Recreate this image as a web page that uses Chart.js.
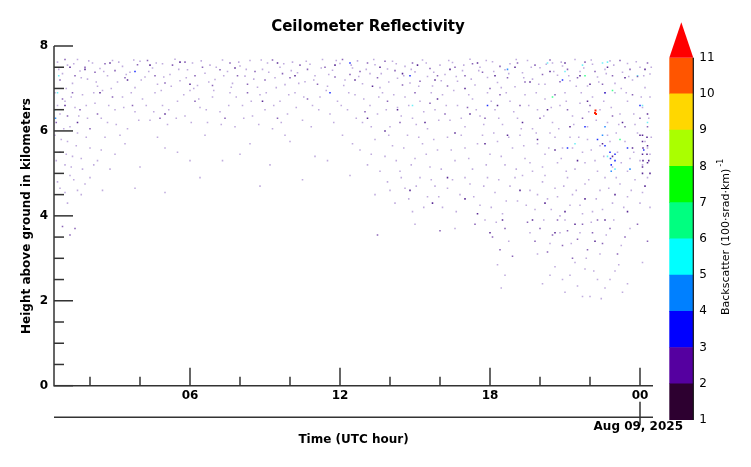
<!DOCTYPE html>
<html>
<head>
<meta charset="utf-8">
<script src="https://cdn.jsdelivr.net/npm/chart.js@4.4.0/dist/chart.umd.min.js"></script>
<style>
  html,body{margin:0;padding:0;background:#fff;}
  #wrap{position:relative;width:751px;height:467px;overflow:hidden;}
  #main{position:absolute;left:0;top:0;}
  #cbar{position:absolute;left:640px;top:0;}
</style>
</head>
<body>
<div id="wrap">
  <canvas id="main" width="751" height="467"></canvas>
  <canvas id="cbar" width="111" height="467"></canvas>
</div>
<script>
// axis ranges (UTC hour, km)
const X_MIN = 0.56, X_MAX = 24.52;
const Y_MIN = 0, Y_MAX = 8;
const X_TICKS = [2,4,6,8,10,12,14,16,18,20,22,24];
const X_LABELS = {6:'06',12:'12',18:'18',24:'00'};
const Y_LABELS = [0,2,4,6,8];
const DATE_LABEL = 'Aug 09, 2025';

// colour bar levels
const CB_LEVELS = [1,2,3,4,5,6,7,8,9,10];
const CB_COLORS = ['#2d0030','#5500a0','#0000ff','#0080ff','#00ffff','#00ff80','#00ff00','#aaff00','#ffd700','#ff5500'];
const CB_TICKS = [1,2,3,4,5,6,7,8,9,10,11];

// echoes [hour, km], grouped by how strong they look
const palePts = [
 [0.7,7.62],[0.9,7.35],[1.1,7.55],[1.3,7.12],[1.5,7.68],[1.6,7.41],[1.9,7.22],[2.1,7.6],[2.3,7.05],[2.4,7.47],[2.7,7.3],[2.9,7.66],[3.1,7.15],[3.3,7.52],[3.6,7.38],[3.8,7.02],[4.0,7.64],[4.2,7.27],[4.5,7.48],[4.7,7.1],[4.9,7.58],[5.2,7.33],[5.4,7.69],[5.6,7.18],[5.9,7.44],[6.1,7.6],[6.3,7.07],[6.6,7.36],[6.8,7.55],[7.0,7.21],[7.3,7.67],[7.5,7.4],[7.7,7.12],[8.0,7.53],[8.2,7.29],[8.4,7.66],[8.7,7.03],[8.9,7.45],[9.1,7.6],[9.4,7.25],[9.6,7.5],[9.8,7.09],[10.1,7.62],[10.3,7.37],[10.6,7.16],[10.8,7.57],[11.0,7.3],[11.3,7.68],[11.5,7.05],[11.7,7.43],[12.0,7.59],[12.2,7.2],[12.5,7.48],[12.7,7.65],[12.9,7.11],[13.2,7.35],[13.4,7.56],[13.6,7.02],[13.9,7.46],[14.1,7.64],[14.3,7.24],[14.6,7.52],[14.8,7.13],[15.0,7.39],[15.3,7.67],[15.5,7.28],[15.7,7.06],[16.0,7.55],[16.2,7.33],[16.5,7.61],[16.7,7.17],[16.9,7.42],[17.2,7.69],[17.4,7.08],[17.6,7.5],[17.9,7.26],[18.1,7.63],[18.3,7.14],[18.6,7.44],[18.8,7.58],[19.0,7.04],[19.3,7.37],[19.5,7.66],[19.7,7.22],[20.0,7.49],[20.2,7.1],[20.5,7.6],[20.7,7.31],[20.9,7.53],[21.2,7.18],[21.4,7.68],[21.6,7.4],[21.9,7.06],[22.1,7.57],[22.3,7.27],[22.6,7.45],[22.8,7.65],[23.0,7.12],[23.3,7.38],[23.5,7.59],[23.7,7.2],[24.0,7.5],[24.2,7.02],[24.4,7.34],
 [0.75,7.45],[1.05,7.0],[1.35,7.58],[1.65,7.25],[1.95,7.65],[2.25,7.15],[2.55,7.4],[2.85,7.0],[3.15,7.62],[3.45,7.33],[3.75,7.67],[4.05,7.2],[4.35,7.4],[4.65,7.6],[4.95,7.27],[5.25,7.05],[5.55,7.45],[5.85,7.25],[6.15,7.0],[6.45,7.65],[6.75,7.15],[7.05,7.5],[7.35,7.3],[7.65,7.03],[7.95,7.62],[8.25,7.45],[8.55,7.22],[8.85,7.67],[9.15,7.38],[9.45,7.02],[9.75,7.58],[10.05,7.42],[10.35,7.12],[10.65,7.64],[10.95,7.2],[11.25,7.48],[11.55,7.33],[11.85,7.66],[12.15,7.07],[12.45,7.55],[12.75,7.28],[13.05,7.45],[13.35,7.68],[13.65,7.35],[13.95,7.15],[14.25,7.58],[14.55,7.3],[14.85,7.45],[15.15,7.05],[15.45,7.6],[15.75,7.38],[16.05,7.18],[16.35,7.66],[16.65,7.28],[16.95,7.55],[17.25,7.22],[17.55,7.42],[17.85,7.66],[18.15,7.4],[18.45,7.02],[18.75,7.35],[19.05,7.68],[19.35,7.25],[19.65,7.5],[19.95,7.1],[20.25,7.57],[20.55,7.4],[20.85,7.62],[21.15,7.3],[21.45,7.05],[21.75,7.48],[22.05,7.67],[22.35,7.15],[22.65,7.35],[22.95,7.55],[23.25,7.0],[23.55,7.28],[23.85,7.63],[24.15,7.3],[24.45,7.5],
 [0.6,6.9],[0.8,6.4],[1.0,6.7],[1.2,6.1],[1.4,6.55],[1.7,6.85],[1.9,6.3],[2.2,6.65],[2.5,6.95],[2.7,6.2],[3.0,6.5],[3.3,6.8],[3.5,6.05],[3.8,6.45],[4.1,6.75],[4.4,6.25],[4.6,6.9],[4.9,6.6],[5.1,6.15],[5.5,6.7],[5.8,6.35],[6.0,6.95],[6.4,6.55],[6.7,6.2],[6.9,6.8],[7.2,6.45],[7.6,6.9],[7.8,6.1],[8.1,6.6],[8.5,6.35],[8.8,6.85],[9.0,6.5],[9.3,6.05],[9.6,6.7],[9.9,6.4],[10.2,6.9],[10.5,6.25],[10.9,6.6],[11.2,6.8],[11.6,6.4],[11.9,6.7],[12.3,6.5],[12.6,6.85],[12.9,6.2],[13.2,6.6],[13.5,6.4],[13.7,6.9],[14.0,6.1],[14.3,6.55],[14.6,6.8],[14.9,6.3],[15.2,6.7],[15.5,6.05],[15.8,6.5],[16.1,6.85],[16.4,6.25],[16.7,6.6],[17.0,6.1],[17.3,6.75],[17.6,6.35],[17.9,6.9],[18.2,6.5],[18.5,6.15],[18.8,6.7],[19.1,6.3],[19.4,6.85],[19.7,6.05],[19.9,6.5],[20.2,6.75],[20.5,6.2],[20.8,6.6],[21.0,6.9],[21.3,6.35],[21.6,6.65],[21.9,6.1],[22.1,6.8],[22.4,6.5],[22.7,6.2],[23.0,6.9],[23.2,6.4],[23.5,6.7],[23.8,6.15],[24.1,6.55],[24.4,6.8],
 [0.7,6.6],[0.95,6.05],[1.25,6.8],[1.55,6.35],[1.85,6.6],[2.15,6.9],[2.45,6.3],[2.75,6.6],[3.05,6.15],[3.35,6.55],[3.65,6.9],[3.95,6.25],[4.25,6.6],[4.55,6.45],[4.85,6.95],[5.15,6.5],[5.45,6.3],[5.75,6.85],[6.05,6.2],[6.35,6.75],[6.65,6.5],[6.95,6.95],[7.25,6.15],[7.55,6.6],[7.85,6.8],[8.15,6.3],[8.45,6.7],[8.75,6.15],[9.05,6.9],[9.35,6.6],[9.65,6.2],[9.95,6.85],[10.25,6.55],[10.55,6.8],[10.85,6.1],[11.15,6.5],[11.45,6.95],[11.75,6.2],[12.05,6.6],[12.35,6.9],[12.65,6.3],[12.95,6.75],[13.25,6.1],[13.55,6.8],[13.85,6.5],[14.15,6.85],[14.45,6.35],[14.75,6.6],[15.05,6.15],[15.35,6.45],[15.65,6.9],[15.95,6.25],[16.25,6.6],[16.55,6.95],[16.85,6.3],[17.15,6.85],[17.45,6.5],[17.75,6.15],[18.05,6.7],[18.35,6.3],[18.65,6.9],[18.95,6.45],[19.25,6.05],[19.55,6.6],[19.85,6.9],[20.15,6.35],[20.45,6.55],[20.75,6.05],[21.05,6.7],[21.35,6.15],[21.65,6.9],[21.95,6.45],[22.25,6.25],[22.55,6.7],[22.85,6.55],[23.15,6.15],[23.45,6.9],[23.75,6.4],[24.05,6.8],[24.35,6.3],
 [0.6,5.9],[0.8,5.5],[1.0,5.2],[1.1,5.75],[1.3,5.4],[1.5,5.95],[1.7,5.1],[2.0,5.6],[2.3,5.3],[2.6,5.85],[3.0,5.45],[3.4,5.7],[4.0,5.15],[4.7,5.85],[5.5,5.5],[6.6,5.9],[7.3,5.3],[8.4,5.7],[9.2,5.2],[10.0,5.75],[11.0,5.4],[12.1,5.9],[12.8,5.55],[13.1,5.2],[13.4,5.8],[13.8,5.4],[14.1,5.65],[14.4,5.05],[14.7,5.9],[15.0,5.35],[15.3,5.7],[15.6,5.15],[15.9,5.55],[16.3,5.85],[16.6,5.3],[17.0,5.6],[17.3,5.1],[17.7,5.9],[18.0,5.45],[18.3,5.75],[18.6,5.2],[18.9,5.6],[19.2,5.9],[19.4,5.35],[19.7,5.05],[19.9,5.7],[20.2,5.45],[20.4,5.95],[20.7,5.25],[20.9,5.6],[21.2,5.85],[21.4,5.1],[21.7,5.5],[21.9,5.8],[22.2,5.3],[22.4,5.65],[22.7,5.9],[22.9,5.15],[23.1,5.5],[23.4,5.75],[23.6,5.35],[23.9,5.95],[24.1,5.2],[24.3,5.6],[24.45,5.85],
 [0.65,5.3],[0.85,5.8],[1.05,5.45],[1.25,5.15],[1.45,5.65],[1.65,5.35],[1.85,5.85],[2.15,5.2],[2.45,5.55],[2.8,5.1],[3.2,5.9],[5.0,5.6],[6.0,5.3],[8.0,5.45],[9.8,5.9],[11.5,5.3],[12.5,5.7],[13.25,5.45],[13.6,5.05],[13.95,5.9],[14.25,5.3],[14.55,5.6],[14.85,5.2],[15.15,5.85],[15.45,5.45],[15.75,5.8],[16.05,5.1],[16.45,5.55],[16.85,5.9],[17.15,5.35],[17.5,5.7],[17.85,5.2],[18.15,5.95],[18.45,5.4],[18.75,5.85],[19.05,5.1],[19.35,5.65],[19.6,5.25],[19.85,5.95],[20.1,5.15],[20.35,5.6],[20.6,5.85],[20.85,5.35],[21.05,5.05],[21.3,5.6],[21.55,5.85],[21.8,5.25],[22.05,5.55],[22.3,5.05],[22.55,5.4],[22.8,5.75],[23.05,5.95],[23.25,5.25],[23.5,5.05],[23.75,5.5],[24.0,5.3],[24.2,5.75],[24.4,5.45],
 [0.7,4.8],[1.0,4.55],[1.2,4.95],[1.5,4.6],[1.8,4.75],[2.5,4.6],[3.8,4.65],[5.0,4.55],[6.4,4.9],[8.8,4.7],[10.5,4.85],[12.4,4.95],[13.4,4.5],[13.9,4.8],[14.2,4.3],[14.6,4.65],[14.9,4.1],[15.2,4.9],[15.5,4.45],[15.8,4.7],[16.1,4.2],[16.5,4.85],[16.8,4.5],[17.2,4.75],[17.6,4.25],[17.9,4.9],[18.2,4.55],[18.5,4.05],[18.8,4.7],[19.1,4.35],[19.3,4.95],[19.6,4.6],[19.8,4.15],[20.1,4.8],[20.3,4.4],[20.6,4.65],[20.8,4.0],[21.1,4.9],[21.3,4.5],[21.6,4.25],[21.8,4.75],[22.1,4.1],[22.4,4.6],[22.6,4.9],[22.9,4.3],[23.2,4.75],[23.5,4.45],[23.8,4.85],[24.1,4.55],[24.4,4.2],
 [0.8,4.65],[1.1,4.3],[1.35,4.85],[1.65,4.5],[2.0,4.9],[14.0,4.6],[14.45,4.9],[14.75,4.4],[15.05,4.7],[15.35,4.2],[15.65,4.85],[15.95,4.45],[16.3,4.65],[16.65,4.1],[17.0,4.9],[17.35,4.45],[17.75,4.7],[18.05,4.2],[18.35,4.85],[18.65,4.35],[19.0,4.9],[19.45,4.25],[19.9,4.5],[20.2,4.95],[20.45,4.15],[20.7,4.45],[20.95,4.7],[21.2,4.25],[21.45,4.6],[21.7,4.05],[21.95,4.85],[22.25,4.4],[22.5,4.15],[22.75,4.65],[23.05,4.9],[23.35,4.2],[23.65,4.6],[24.0,4.3],[24.3,4.9],
 [19.6,3.6],[19.9,3.1],[20.15,3.9],[20.4,3.35],[20.8,3.6],[21.0,3.9],[21.25,3.35],[21.6,3.6],[21.85,3.0],[22.05,3.85],[22.4,3.1],[22.65,3.55],[22.95,3.9],[23.25,3.3],[23.6,3.7],[18.25,3.85],[18.75,3.4],[15.0,3.8],[16.6,3.7],[17.8,3.9],
 [18.3,2.85],[18.6,2.6],[20.1,2.4],[20.6,2.8],[21.0,2.2],[21.2,2.6],[21.5,2.35],[21.8,2.75],[22.0,2.1],[22.3,2.5],[22.6,2.3],[23.0,2.7],[23.3,2.2],[24.1,2.9],
 [20.4,2.6],[20.9,2.5],[21.4,2.9],[21.7,2.1],[22.15,2.7],[22.45,2.05],[22.8,2.5],[23.15,2.85],[23.5,2.4],[18.45,2.3]
];
const lightPts = [
 [0.8,7.2],[1.0,7.68],[1.4,7.3],[1.8,7.5],[2.2,7.38],[2.6,7.58],[3.0,7.42],[3.4,7.25],[3.9,7.56],[4.3,7.66],[4.6,7.3],[5.0,7.13],[5.3,7.55],[5.8,7.62],[6.2,7.3],[6.5,7.5],[6.9,7.07],[7.2,7.44],[7.6,7.6],[7.9,7.3],[8.3,7.1],[8.6,7.4],[9.0,7.2],[9.3,7.67],[9.7,7.35],[10.0,7.25],[10.4,7.55],[10.7,7.45],[11.1,7.1],[11.4,7.5],[11.8,7.27],[12.1,7.68],[12.4,7.33],[12.8,7.4],[13.1,7.6],[13.5,7.25],[13.8,7.64],[14.2,7.42],[14.5,7.08],[14.9,7.6],[15.2,7.17],[15.6,7.47],[15.9,7.3],[16.3,7.06],[16.6,7.5],[17.0,7.3],[17.3,7.58],[17.7,7.38],[18.0,7.0],[18.4,7.52],[18.7,7.25],[19.1,7.6],[19.4,7.15],[19.8,7.55],[20.1,7.33],[20.4,7.67],[20.8,7.16],[21.1,7.45],[21.5,7.25],[21.8,7.62],[22.2,7.4],[22.5,7.1],[22.9,7.3],[23.2,7.66],[23.6,7.45],[23.9,7.28],[24.3,7.6],
 [0.65,6.2],[0.9,6.75],[1.1,6.35],[1.3,6.9],[1.6,6.5],[2.0,6.05],[2.3,6.4],[2.9,6.8],[3.7,6.6],[4.8,6.3],[6.2,6.7],[7.4,6.3],[8.3,6.9],[9.5,6.3],[10.7,6.75],[13.0,6.45],[13.9,6.7],[14.4,6.2],[15.0,6.9],[15.6,6.65],[16.2,6.4],[17.1,6.55],[17.8,6.3],[18.4,6.85],[19.2,6.6],[20.0,6.3],[20.6,6.85],[21.1,6.5],[21.7,6.3],[22.0,6.6],[22.6,6.9],[22.9,6.35],[23.4,6.1],[23.7,6.85],[24.0,6.3],[24.3,6.1],
 [0.9,3.75],[1.2,3.55],[1.4,3.7],[13.5,3.55],[16.0,3.65],[17.4,3.8],[18.1,3.5],[18.4,3.2],[18.6,3.7],[18.9,3.05],[19.5,3.85],[19.8,3.4],[20.0,3.7],[20.3,3.15],[20.5,3.55],[20.7,3.9],[20.9,3.3],[21.1,3.65],[21.3,3.0],[21.5,3.45],[21.7,3.8],[21.9,3.2],[22.1,3.6],[22.3,3.9],[22.5,3.35],[22.8,3.7],[23.1,3.1],[23.4,3.5],[23.9,3.8],[24.3,3.4]
];
const purplePts = [
 [1.2,7.5],[1.8,7.45],[2.8,7.6],[3.5,7.2],[4.4,7.55],[5.6,7.62],[6.0,7.1],[7.8,7.48],[9.5,7.6],[10.2,7.3],[11.8,7.55],[12.6,7.2],[13.3,7.05],[13.6,7.5],[14.5,7.35],[15.1,7.55],[15.8,7.2],[16.4,7.45],[17.0,7.0],[17.5,7.6],[18.2,7.3],[19.0,7.5],[19.6,7.15],[20.4,7.4],[21.0,7.6],[21.6,7.3],[22.0,7.1],[22.7,7.5],[23.4,7.25],[24.2,7.45],
 [1.0,6.6],[1.5,6.2],[2.4,6.9],[5.0,6.4],[8.9,6.7],[13.1,6.3],[13.8,6.0],[14.3,6.5],[15.4,6.2],[15.9,6.75],[16.6,5.95],[17.2,6.4],[17.8,5.7],[18.3,6.6],[18.7,5.9],[19.3,6.2],[19.9,5.8],[20.3,6.5],[20.6,5.55],[21.2,6.1],[21.5,5.3],[21.9,6.7],[22.5,5.7],[22.9,5.4],[23.3,6.2],[23.7,5.6],[24.0,5.9],[24.3,6.4],[24.35,5.3],[24.4,5.0],
 [14.8,4.6],[15.7,4.3],[16.3,4.9],[17.0,4.4],[17.5,4.05],[18.0,3.6],[18.5,3.9],[19.2,4.6],[19.7,3.9],[20.2,4.3],[20.6,3.6],[21.0,4.1],[21.4,3.8],[21.8,4.4],[22.2,3.4],[22.6,3.9],[23.0,4.5],[23.5,4.1],[24.2,4.7],
 [24.1,5.9],[24.1,5.75],[24.12,5.6],[24.1,5.45],[24.12,5.3],[24.1,5.15],[24.1,5.0],[24.28,5.85],[24.3,5.65],[24.28,5.45],[24.3,5.25]
];
const bluePts = [
 [22.8,5.5],[22.82,5.35],[22.85,5.2],[23.0,5.45],[23.0,5.3],[22.6,5.65],[22.3,5.8],[23.5,5.6],[24.15,5.55],[21.8,6.1],[14.8,7.3],[12.4,7.6],[20.9,7.2],[22.6,6.9],[3.8,7.4],[11.6,6.9],[17.9,6.6],[21.1,5.6],[24.0,6.6]
];
const skyPts = [[22.5,5.9],[22.6,6.1],[23.6,5.1],[18.7,7.45],[0.62,6.3],[22.85,5.05]];
const cyanPts = [[20.3,7.6],[21.0,7.4],[21.7,7.55],[22.5,7.6],[22.7,7.62],[23.0,5.1],[22.7,5.4],[24.1,6.6],[24.3,6.2],[0.75,7.3],[0.7,6.9],[0.6,6.5],[14.9,6.6],[21.4,5.7],[23.9,7.3]];
const greenPts = [[22.9,6.95],[21.8,7.3],[23.2,5.8],[20.5,6.8]];
const redPts = [[22.2,6.42],[22.22,6.48],[22.24,6.4]];

const FONT = "'DejaVu Sans', sans-serif";
const INK = '#000';

function pts(arr){ return arr.map(p=>({x:p[0], y:p[1]})); }
function ds(arr, color, r){
  return {data:pts(arr), backgroundColor:color, borderWidth:0, pointStyle:'rect', pointRadius:r, pointHoverRadius:r};
}

const axesPlugin = {
  id:'axesPlugin',
  afterDraw(chart){
    const ctx = chart.ctx, xs = chart.scales.x, ys = chart.scales.y;
    const a = chart.chartArea;
    ctx.save();
    ctx.strokeStyle = '#333'; ctx.lineWidth = 1.5;
    // left and bottom axis lines
    ctx.beginPath();
    ctx.moveTo(a.left, a.top); ctx.lineTo(a.left, a.bottom); ctx.lineTo(a.right, a.bottom);
    ctx.stroke();
    // y ticks every 0.5 km, long every 2 km
    for(let v=0; v<=Y_MAX; v+=0.5){
      const y = ys.getPixelForValue(v), len = (v%2===0) ? 19 : 10;
      ctx.beginPath(); ctx.moveTo(a.left, y); ctx.lineTo(a.left+len, y); ctx.stroke();
    }
    // x ticks every 2 h, long at labelled hours
    X_TICKS.forEach(h=>{
      const x = xs.getPixelForValue(h), len = X_LABELS[h] ? 18 : 9;
      ctx.beginPath(); ctx.moveTo(x, a.bottom); ctx.lineTo(x, a.bottom-len); ctx.stroke();
    });
    // date axis
    const yd = a.bottom + 31.6;
    ctx.beginPath(); ctx.moveTo(a.left, yd); ctx.lineTo(a.right, yd); ctx.stroke();
    const x24 = xs.getPixelForValue(24);
    ctx.beginPath(); ctx.moveTo(x24, a.bottom+16); ctx.lineTo(x24, yd+8); ctx.stroke();

    ctx.fillStyle = INK;
    ctx.font = 'bold 12px '+FONT;
    ctx.textAlign = 'right'; ctx.textBaseline = 'middle';
    Y_LABELS.forEach(v=> ctx.fillText(String(v), a.left-6, ys.getPixelForValue(v)));
    ctx.textAlign = 'center';
    Object.keys(X_LABELS).forEach(h=> ctx.fillText(X_LABELS[h], xs.getPixelForValue(+h), a.bottom+10));
    ctx.textAlign = 'right';
    ctx.fillText(DATE_LABEL, 683, yd+10);
    ctx.textAlign = 'center';
    ctx.fillText('Time (UTC hour)', (a.left+a.right)/2, yd+23);

    ctx.font = 'bold 15px '+FONT;
    ctx.fillText('Ceilometer Reflectivity', 368, 27);

    ctx.font = 'bold 12px '+FONT;
    ctx.translate(27, 216); ctx.rotate(-Math.PI/2);
    ctx.fillText('Height above ground in kilometers', 0, 0);
    ctx.restore();
  }
};

new Chart(document.getElementById('main'), {
  type:'scatter',
  data:{datasets:[
    ds(palePts,'rgba(130,90,190,0.5)',1.1),
    ds(lightPts,'rgba(100,50,160,0.75)',1.1),
    ds(purplePts,'#5a2a95',1.1),
    ds(bluePts,'#2030ff',1.1),
    ds(skyPts,'#3090ff',1.1),
    ds(cyanPts,'#70f0f8',1.1),
    ds(greenPts,'#40ff90',1.1),
    ds(redPts,'#ff2000',1.4)
  ]},
  options:{
    responsive:false, animation:false, devicePixelRatio:1,
    layout:{padding:{left:54, right:98, top:46, bottom:81.3}},
    scales:{
      x:{type:'linear', min:X_MIN, max:X_MAX, display:false},
      y:{type:'linear', min:Y_MIN, max:Y_MAX, display:false}
    },
    plugins:{legend:{display:false}, tooltip:{enabled:false}}
  },
  plugins:[axesPlugin]
});

const cbPlugin = {
  id:'cbPlugin',
  afterDraw(chart){
    const ctx = chart.ctx, ys = chart.scales.y, a = chart.chartArea;
    const top = ys.getPixelForValue(11);
    ctx.save();
    ctx.fillStyle = '#ff0000';
    ctx.beginPath();
    ctx.moveTo(a.left, top); ctx.lineTo((a.left+a.right)/2, top-35.4); ctx.lineTo(a.right, top);
    ctx.closePath(); ctx.fill();
    ctx.strokeStyle = '#111'; ctx.lineWidth = 1.2;
    ctx.beginPath(); ctx.moveTo(a.right, top); ctx.lineTo(a.right, ys.getPixelForValue(1)); ctx.stroke();
    ctx.fillStyle = INK;
    ctx.font = '12px '+FONT; ctx.textAlign = 'left'; ctx.textBaseline = 'middle';
    CB_TICKS.forEach(v=> ctx.fillText(String(v), a.right+6, ys.getPixelForValue(v)));
    ctx.translate(86, 315); ctx.rotate(-Math.PI/2);
    ctx.font = '11px '+FONT; ctx.textBaseline = 'middle';
    const main = 'Backscatter (100\u00b7srad\u00b7km)';
    ctx.fillText(main, 0, 0);
    const w = ctx.measureText(main).width;
    ctx.font = '8px '+FONT;
    ctx.fillText('-1', w+2, -5);
    ctx.restore();
  }
};

new Chart(document.getElementById('cbar'), {
  type:'bar',
  data:{labels:['cb'], datasets:CB_LEVELS.map((lv,i)=>({
    data:[[lv, lv+1]], backgroundColor:CB_COLORS[i], borderWidth:0,
    grouped:false, barPercentage:1, categoryPercentage:1
  }))},
  options:{
    responsive:false, animation:false, devicePixelRatio:1,
    layout:{padding:{left:29.3, right:57.7, top:57.7, bottom:47}},
    scales:{
      x:{display:false},
      y:{type:'linear', min:1, max:11, display:false}
    },
    plugins:{legend:{display:false}, tooltip:{enabled:false}}
  },
  plugins:[cbPlugin]
});
</script>
</body>
</html>
